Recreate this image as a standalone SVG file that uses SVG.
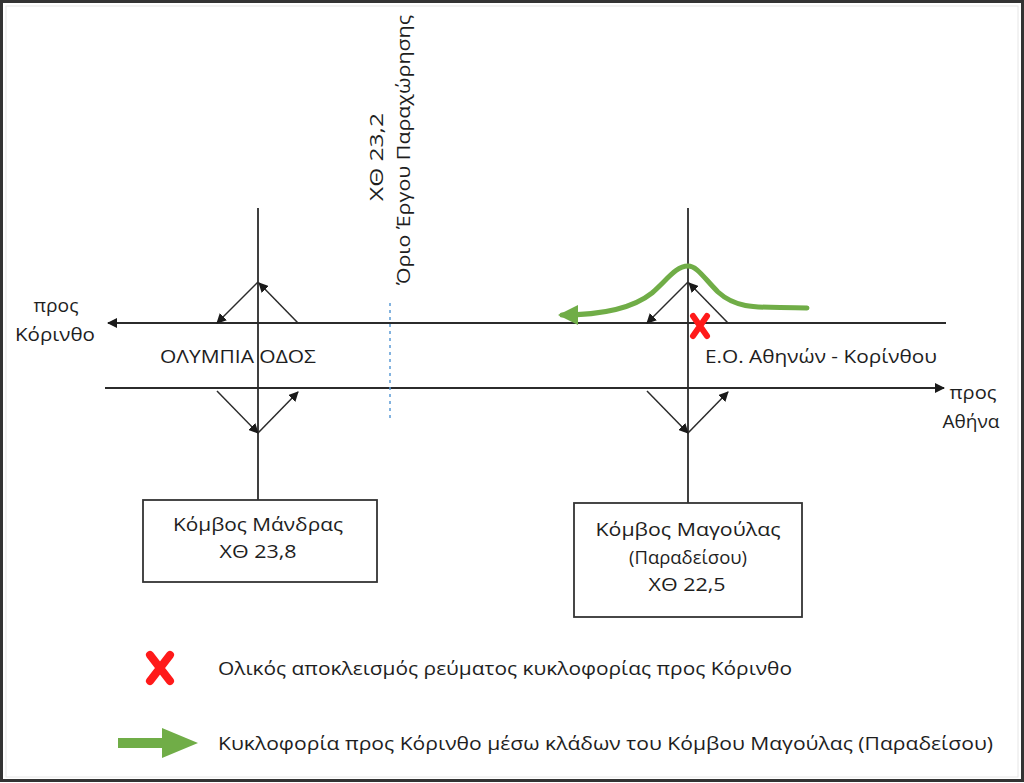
<svg xmlns="http://www.w3.org/2000/svg" width="1024" height="783" viewBox="0 0 1024 783">
<style>
.road{stroke:#2b2b2b;stroke-width:1.8;fill:none}
.ramp{stroke:#2b2b2b;stroke-width:1.5;fill:none}
.box{fill:#fff;stroke:#333;stroke-width:1.8}
text{font-family:"Open Sans","Noto Sans","Liberation Sans",sans-serif;fill:#1e1e1e}
.t{font-size:17.5px}
.lg{font-size:19px}
.c{text-anchor:middle}
</style>
<defs>
<marker id="ah" viewBox="0 0 10 10" refX="9" refY="5" markerWidth="10" markerHeight="10" markerUnits="userSpaceOnUse" orient="auto">
<path d="M0,0 L10,5 L0,10 z" fill="#1a1a1a"/>
</marker>
<marker id="gah" viewBox="0 0 10 10" refX="8" refY="5" markerWidth="4" markerHeight="4" orient="auto">
<path d="M0,0 L10,5 L0,10 z" fill="#70ad47"/>
</marker>
</defs>
<rect x="0" y="0" width="1024" height="783" fill="#fff"/>
<rect x="1.5" y="1.5" width="1021" height="779" fill="none" stroke="#333" stroke-width="3"/>
<rect x="6" y="6" width="1012" height="771" fill="none" stroke="#e6e6e6" stroke-width="1"/>

<g id="connectors">
<line class="road" x1="946" y1="323" x2="108" y2="323" marker-end="url(#ah)"/>
<line class="road" x1="105" y1="388" x2="944" y2="388" marker-end="url(#ah)"/>
<line class="road" x1="258" y1="208" x2="258" y2="500"/>
<line class="road" x1="688" y1="208" x2="688" y2="503"/>
<line x1="390" y1="303" x2="390" y2="418" stroke="#5b9bd5" stroke-width="1.5" stroke-dasharray="3,4"/>
<line class="ramp" x1="258" y1="282" x2="217" y2="323" marker-end="url(#ah)"/>
<line class="ramp" x1="298" y1="323" x2="259" y2="283" marker-end="url(#ah)"/>
<line class="ramp" x1="217" y1="391" x2="258" y2="433" marker-end="url(#ah)"/>
<line class="ramp" x1="258" y1="433" x2="298" y2="392" marker-end="url(#ah)"/>
<line class="ramp" x1="688" y1="282" x2="647" y2="323" marker-end="url(#ah)"/>
<line class="ramp" x1="728" y1="323" x2="689" y2="283" marker-end="url(#ah)"/>
<line class="ramp" x1="647" y1="391" x2="688" y2="433" marker-end="url(#ah)"/>
<line class="ramp" x1="688" y1="433" x2="728" y2="392" marker-end="url(#ah)"/>
<path d="M807,308 C765,306 740,312 718,292 C704,278 697,266 688,266 C676,266 667,280 652,293 C632,309 600,315 562,315" fill="none" stroke="#70ad47" stroke-width="5" stroke-linecap="round" marker-end="url(#gah)"/>
</g>

<g id="closure-x">
<path d="M693,316 L707,336 M707,316 L693,336" stroke="#ff1a1a" stroke-width="6" stroke-linecap="round"/>
</g>

<g id="labels">
<text class="t c" x="56" y="312" textLength="45" lengthAdjust="spacingAndGlyphs">προς</text>
<text class="t c" x="55" y="341" textLength="80" lengthAdjust="spacingAndGlyphs">Κόρινθο</text>
<text class="t c" x="973" y="399" textLength="47" lengthAdjust="spacingAndGlyphs">προς</text>
<text class="t c" x="971" y="428" textLength="57" lengthAdjust="spacingAndGlyphs">Αθήνα</text>
<text class="t" x="160" y="363" textLength="156" lengthAdjust="spacingAndGlyphs">ΟΛΥΜΠΙΑ ΟΔΟΣ</text>
<text class="t" x="705" y="363" textLength="232" lengthAdjust="spacingAndGlyphs">Ε.Ο. Αθηνών - Κορίνθου</text>
<text class="t c" transform="translate(383,157) rotate(-90)" textLength="88" lengthAdjust="spacingAndGlyphs">ΧΘ 23,2</text>
<text class="t c" transform="translate(410,150) rotate(-90)" textLength="270" lengthAdjust="spacingAndGlyphs">Όριο Έργου Παραχώρησης</text>
</g>

<g id="node-mandra">
<rect class="box" x="143" y="500" width="234" height="82"/>
<text class="t c" x="258" y="531" textLength="170" lengthAdjust="spacingAndGlyphs">Κόμβος Μάνδρας</text>
<text class="t c" x="258" y="558" textLength="77" lengthAdjust="spacingAndGlyphs">ΧΘ 23,8</text>
</g>

<g id="node-magoula">
<rect class="box" x="574" y="503" width="228" height="114"/>
<text class="t c" x="688" y="536" textLength="185" lengthAdjust="spacingAndGlyphs">Κόμβος Μαγούλας</text>
<text class="t c" x="688" y="564" textLength="118" lengthAdjust="spacingAndGlyphs">(Παραδείσου)</text>
<text class="t c" x="687" y="591" textLength="77" lengthAdjust="spacingAndGlyphs">ΧΘ 22,5</text>
</g>

<g id="legend">
<path d="M150,655 L170,681 M170,655 L150,681" stroke="#ff1a1a" stroke-width="8" stroke-linecap="round"/>
<text class="lg" x="218" y="675" textLength="574" lengthAdjust="spacingAndGlyphs">Ολικός αποκλεισμός ρεύματος κυκλοφορίας προς Κόρινθο</text>
<path d="M118,738 L162,738 L162,728 L198,743 L162,758 L162,748 L118,748 z" fill="#70ad47"/>
<text class="lg" x="218" y="750" textLength="775" lengthAdjust="spacingAndGlyphs">Κυκλοφορία προς Κόρινθο μέσω κλάδων του Κόμβου Μαγούλας (Παραδείσου)</text>
</g>
</svg>
